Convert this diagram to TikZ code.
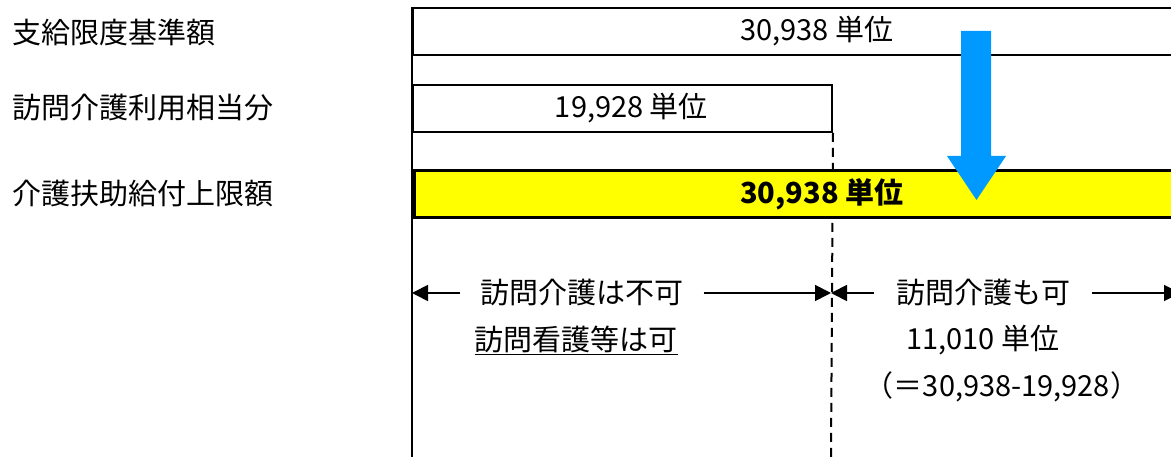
\documentclass[tikz,border=0pt]{standalone}
\usepackage{fontspec}
\setmainfont{Noto Sans CJK JP}
\usetikzlibrary{arrows.meta}
\definecolor{barYellow}{RGB}{255,255,0}
\definecolor{arrowBlue}{RGB}{0,153,255}

\begin{document}
\begin{tikzpicture}[x=1pt,y=1pt,
	font=\fontsize{29}{33}\selectfont,
	bar/.style={draw, line width=2pt, minimum height=47pt, inner sep=0pt, anchor=west},
	rowlabel/.style={anchor=west, inner sep=0pt},
	dim/.style={line width=1.8pt, -{Triangle[length=16pt,width=16pt]}}]
	\useasboundingbox (0,0) rectangle (1171,457);
	\clip (0,0) rectangle (1171,457);

	% Row labels
\foreach \txt/\y [count=\i] in {支給限度基準額/425, 訪問介護利用相当分/349, 介護扶助給付上限額/263} {
	\node[rowlabel] (row\i) at (12,\y) {\txt};
}

	% Bars
\node[bar, minimum width=808pt] (limit) at (412,425.5) {30,938 単位};
\node[bar, minimum width=419pt] (visit) at (412,348.5) {\hspace{18pt}19,928 単位};
\coordinate (baseL) at (412,0);
\coordinate (baseM) at (831,0);
\draw[line width=2pt] (limit.north west) -- (baseL);
\draw[line width=2pt, dash pattern=on 9pt off 6pt] (visit.south east) -- (baseM);
\node[bar, fill=barYellow, line width=3.5pt, minimum width=816pt, font=\fontsize{29}{33}\selectfont\bfseries] (cap) at (412,263) {30,938 単位};

	% Blue arrow
\fill[arrowBlue] (961,426) -- (991,426) -- (991,301) -- (1006,301) -- (976.5,257) -- (947,301) -- (961,301) -- cycle;

	% Ranges
\coordinate (ngL) at (412,164);
\coordinate (ngR) at (831,164);
\coordinate (okR) at (1180,164);
\node[inner xsep=20pt] (ngText) at (582,164) {訪問介護は不可};
\node[inner xsep=22pt] (okText) at (983,164) {訪問介護も可};
\draw[dim] (ngText) -- (ngL);
\draw[dim] (ngText) -- (ngR);
\draw[dim] (okText) -- (ngR);
\draw[dim] (okText) -- (okR);

\node (nurseText) at (576,117) {\underline{訪問看護等は可}};
\node (okUnits) at (983,117) {11,010 単位};
\node (okCalc) at (1002,70) {（＝30,938-19,928）};
\end{tikzpicture}
\end{document}
